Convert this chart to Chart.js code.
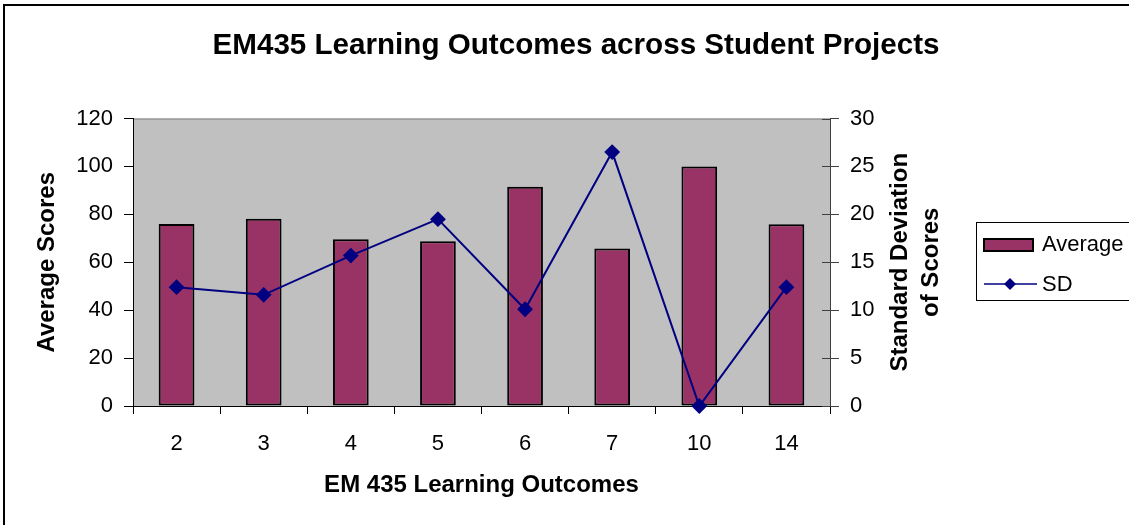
<!DOCTYPE html>
<html>
<head>
<meta charset="utf-8">
<title>EM435 Learning Outcomes</title>
<script src="https://cdn.jsdelivr.net/npm/chart.js@4.4.0/dist/chart.umd.min.js"></script>
<style>
  html, body { margin: 0; padding: 0; background: #fff; }
  canvas { display: block; }
</style>
</head>
<body>
<canvas id="outcomes-chart" width="1129" height="525"></canvas>
<script>
// values
const outcomes = ['2', '3', '4', '5', '6', '7', '10', '14'];
const averageScores = [76, 78.2, 69.6, 68.8, 91.5, 65.7, 100, 75.9];
const sdScores = [12.4, 11.6, 15.7, 19.5, 10.1, 26.5, 0, 12.4];
const seriesLabels = ['Average', 'SD'];
const rightAxisTitle = ['Standard Deviation', 'of Scores'];

const FONT = '"Liberation Sans", Arial, sans-serif';
Chart.defaults.font.family = FONT;
Chart.defaults.color = '#000';

// white page, outer frame and the grey plot area
const backdrop = {
  id: 'backdrop',
  beforeDraw(chart) {
    const { ctx, chartArea: a } = chart;
    ctx.save();
    ctx.fillStyle = '#fff';
    ctx.fillRect(0, 0, chart.width, chart.height);
    ctx.strokeStyle = '#000';
    ctx.lineWidth = 2;
    ctx.strokeRect(4, 5, chart.width + 20, chart.height + 20);
    ctx.fillStyle = '#c0c0c0';
    ctx.fillRect(a.left, a.top, a.right - a.left, a.bottom - a.top);
    ctx.strokeStyle = '#808080';
    ctx.lineWidth = 1;
    ctx.beginPath();
    ctx.moveTo(a.left, a.top + 0.5);
    ctx.lineTo(a.right, a.top + 0.5);
    ctx.stroke();
    ctx.restore();
  },
  beforeDatasetsDraw(chart) {
    // right axis ticks cross the axis line, add the inner half
    const { ctx, chartArea: a } = chart;
    const scale = chart.scales.y1;
    ctx.save();
    ctx.strokeStyle = '#404040';
    ctx.lineWidth = 1;
    ctx.beginPath();
    scale.ticks.forEach(t => {
      const y = Math.round(scale.getPixelForValue(t.value)) + 0.5;
      ctx.moveTo(a.right - 8, y);
      ctx.lineTo(a.right, y);
    });
    ctx.stroke();
    ctx.restore();
  }
};

// boxed legend on the right + the two-line right axis title
const sideBits = {
  id: 'sideBits',
  afterDraw(chart) {
    const { ctx, chartArea: a } = chart;
    const bar = chart.data.datasets[0];
    const line = chart.data.datasets[1];
    ctx.save();

    const midY = (a.top + a.bottom) / 2;
    ctx.fillStyle = '#000';
    ctx.font = 'bold 24px ' + FONT;
    ctx.textAlign = 'center';
    ctx.textBaseline = 'middle';
    [900, 931].forEach((x, i) => {
      ctx.save();
      ctx.translate(x, midY);
      ctx.rotate(-Math.PI / 2);
      ctx.fillText(rightAxisTitle[i], 0, 0);
      ctx.restore();
    });

    ctx.strokeStyle = '#000';
    ctx.lineWidth = 1;
    ctx.strokeRect(976.5, 222.5, 200, 78);

    ctx.fillStyle = bar.backgroundColor;
    ctx.fillRect(984, 239, 49, 12);
    ctx.lineWidth = 2;
    ctx.strokeRect(984, 239, 49, 12);

    ctx.strokeStyle = line.borderColor;
    ctx.lineWidth = 1.5;
    ctx.beginPath();
    ctx.moveTo(984, 284);
    ctx.lineTo(1037, 284);
    ctx.stroke();
    ctx.fillStyle = line.backgroundColor;
    ctx.beginPath();
    ctx.moveTo(1010, 278);
    ctx.lineTo(1016, 284);
    ctx.lineTo(1010, 290);
    ctx.lineTo(1004, 284);
    ctx.closePath();
    ctx.fill();

    ctx.fillStyle = '#000';
    ctx.font = '22px ' + FONT;
    ctx.textAlign = 'left';
    ctx.fillText(bar.label, 1042, 245);
    ctx.fillText(line.label, 1042, 285);
    ctx.restore();
  }
};

new Chart(document.getElementById('outcomes-chart'), {
  type: 'bar',
  data: {
    labels: outcomes,
    datasets: [
      {
        label: seriesLabels[0],
        data: averageScores,
        yAxisID: 'y',
        backgroundColor: '#993366',
        borderColor: '#000',
        borderWidth: 2,
        borderSkipped: false,
        barPercentage: 0.41,
        categoryPercentage: 1,
        order: 1
      },
      {
        type: 'line',
        label: seriesLabels[1],
        data: sdScores,
        yAxisID: 'y1',
        borderColor: '#000080',
        backgroundColor: '#000080',
        borderWidth: 2,
        pointStyle: 'rectRot',
        pointRadius: 6.5,
        pointHoverRadius: 6.5,
        tension: 0,
        clip: false,
        order: 0
      }
    ]
  },
  options: {
    responsive: false,
    animation: false,
    events: [],
    // left padding only pushes the centred title over a bit
    layout: { padding: { left: 23, right: 0, top: 0, bottom: 0 } },
    plugins: {
      legend: { display: false },
      tooltip: { enabled: false },
      title: {
        display: true,
        text: 'EM435 Learning Outcomes across Student Projects',
        color: '#000',
        font: { size: 29.6, weight: 'bold' },
        padding: { top: 28, bottom: 55 }
      }
    },
    scales: {
      x: {
        grid: { offset: true, drawOnChartArea: false, tickLength: 8, color: '#000' },
        border: { color: '#000', width: 1 },
        ticks: { font: { size: 22 }, padding: 17, color: '#000' },
        title: {
          display: true,
          text: 'EM 435 Learning Outcomes',
          color: '#000',
          font: { size: 24, weight: 'bold' },
          padding: { top: 0, bottom: 25 }
        },
        afterFit(scale) { scale.height = 119; }
      },
      y: {
        position: 'left',
        min: 0,
        max: 120,
        ticks: { stepSize: 20, font: { size: 22 }, padding: 11, color: '#000' },
        grid: { drawOnChartArea: false, tickLength: 9, color: '#000' },
        border: { color: '#000' },
        title: {
          display: true,
          text: 'Average Scores',
          color: '#000',
          font: { size: 24, weight: 'bold' },
          padding: { top: 10, bottom: 0 }
        },
        afterFit(scale) { scale.width = 110; }
      },
      y1: {
        position: 'right',
        min: 0,
        max: 30,
        ticks: { stepSize: 5, font: { size: 22 }, padding: 11, color: '#000' },
        grid: { drawOnChartArea: false, tickLength: 9, color: '#404040' },
        border: { color: '#404040' },
        afterFit(scale) { scale.width = 299; }
      }
    }
  },
  plugins: [backdrop, sideBits]
});
</script>
</body>
</html>
